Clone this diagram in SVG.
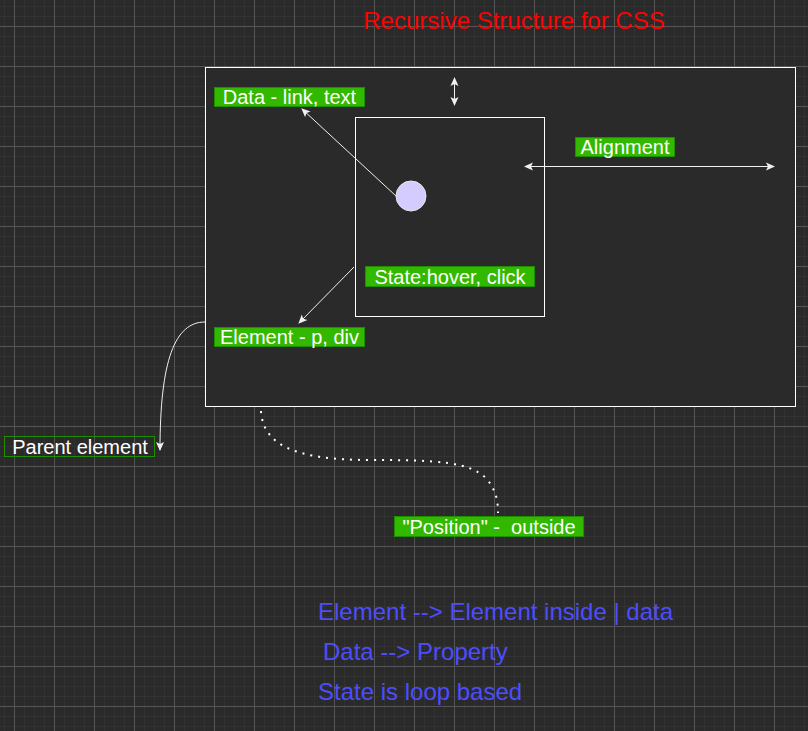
<svg xmlns="http://www.w3.org/2000/svg" width="808" height="731" viewBox="0 0 808 731">
<defs>
<pattern id="minor" width="10" height="10" patternUnits="userSpaceOnUse" x="4" y="6">
<path d="M0.5 0V10M0 0.5H10" stroke="#323232" stroke-width="1" fill="none"/>
</pattern>
<pattern id="major" width="40" height="40" patternUnits="userSpaceOnUse" x="14" y="26">
<path d="M0.5 0V40M0 0.5H40" stroke="#555" stroke-width="1" fill="none"/>
</pattern>
<marker id="arr" markerWidth="10" markerHeight="10" refX="8" refY="5" orient="auto-start-reverse" markerUnits="userSpaceOnUse">
<path d="M0,1 L9,5 L0,9 L2,5 Z" fill="#f0f0f0"/>
</marker>
<style>
.lbl{fill:#33b800;stroke:#1f8f00;stroke-width:1}
.lt{font-family:"Liberation Sans",Arial,sans-serif;font-size:20px;fill:#ffffff;text-anchor:middle;white-space:pre}
.blue{font-family:"Liberation Sans",Arial,sans-serif;font-size:24px;fill:#4d4dff}
.ln{stroke:#f0f0f0;stroke-width:1;fill:none}
</style>
</defs>
<rect width="808" height="731" fill="#2a2a2a"/>
<rect width="808" height="731" fill="url(#minor)"/>
<rect width="808" height="731" fill="url(#major)"/>

<text x="514" y="29" font-family="'Liberation Sans',Arial,sans-serif" font-size="24" fill="#ff0000" text-anchor="middle">Recursive Structure for CSS</text>

<g id="outer"><rect x="205.5" y="67.5" width="590" height="339" fill="#2a2a2a" stroke="#ffffff" stroke-width="1"/></g>
<g id="inner"><rect x="355.5" y="117.5" width="189" height="199" fill="#2a2a2a" stroke="#ffffff" stroke-width="1"/></g>
<g id="circle"><circle cx="411" cy="196" r="15" fill="#d4ccff" stroke="#e8e8e8" stroke-width="1"/></g>

<g id="connectors">
<path class="ln" d="M396,196 L302,109" marker-end="url(#arr)"/>
<path class="ln" d="M354,267 L299,323" marker-end="url(#arr)"/>
<path class="ln" d="M454.5,78 L454.5,105" marker-start="url(#arr)" marker-end="url(#arr)"/>
<path class="ln" d="M525,166.5 L774,166.5" marker-start="url(#arr)" marker-end="url(#arr)"/>
<path class="ln" d="M205,322 C175,322 160,360 160,450" marker-end="url(#arr)"/>
<path d="M261,411 C263,445 295,460 370,460 C440,460 468,462 486,478 C496,490 498,500 498,513" fill="none" stroke="#ffffff" stroke-width="2" stroke-dasharray="2 6"/>
</g>

<g id="data"><rect class="lbl" x="214.5" y="87.5" width="150" height="19"/><text class="lt" x="289.5" y="104">Data - link, text</text></g>
<g id="alignment"><rect class="lbl" x="575.5" y="137.5" width="99" height="19"/><text class="lt" x="625" y="154">Alignment</text></g>
<g id="state"><rect class="lbl" x="365.5" y="266.5" width="169" height="20"/><text class="lt" x="450" y="284">State:hover, click</text></g>
<g id="element"><rect class="lbl" x="214.5" y="327.5" width="150" height="19"/><text class="lt" x="289.5" y="344">Element - p, div</text></g>
<g id="parent"><rect x="4.5" y="436.5" width="150" height="20" fill="none" stroke="#1f8f00" stroke-width="1"/><text class="lt" x="80" y="454">Parent element</text></g>
<g id="position"><rect class="lbl" x="394.5" y="516.5" width="189" height="20"/><text class="lt" x="489" y="534">"Position" -  outside</text></g>

<g id="notes">
<text class="blue" x="318" y="620">Element --&gt; Element inside | data</text>
<text class="blue" x="323" y="660">Data --&gt; Property</text>
<text class="blue" x="318" y="700">State is loop based</text>
</g>
</svg>
